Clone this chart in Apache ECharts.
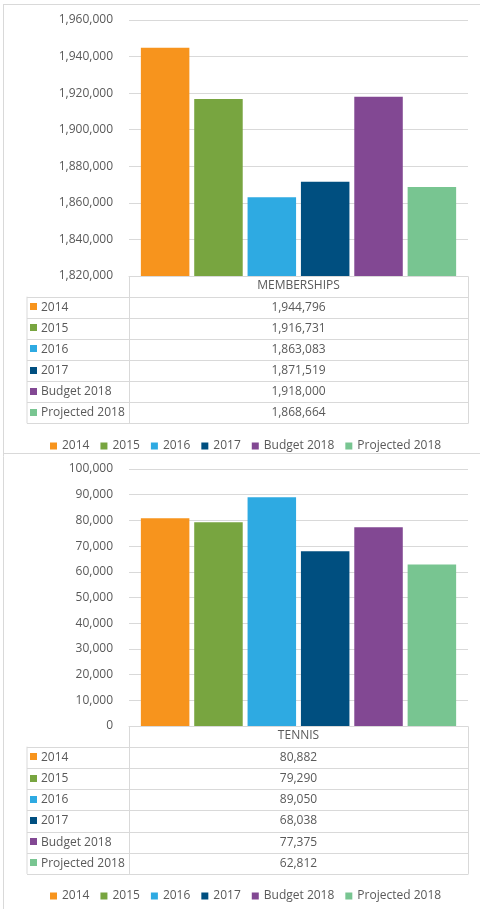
<!DOCTYPE html>
<html>
<head>
<meta charset="utf-8">
<script src="https://cdn.jsdelivr.net/npm/echarts@6/dist/echarts.min.js"></script>
<style>
  html, body { margin: 0; padding: 0; background: #fff; }
  #chart { width: 480px; height: 909px; }
</style>
</head>
<body>
<div id="chart"></div>
<script>
// data
var seriesNames = ['2014', '2015', '2016', '2017', 'Budget 2018', 'Projected 2018'];
var seriesColors = ['#F7941D', '#78A540', '#2EAAE2', '#004F80', '#824893', '#78C591'];
var membershipsValues = [1944796, 1916731, 1863083, 1871519, 1918000, 1868664];
var tennisValues = [80882, 79290, 89050, 68038, 77375, 62812];
var membershipsAxis = [1820000, 1960000, 20000];  // min, max, step
var tennisAxis = [0, 100000, 10000];

var textColor = '#595959';
var lineColor = '#d9d9d9';
var font = '"Open Sans", sans-serif';

function fmt(v) { return v.toLocaleString('en-US'); }

var chart = echarts.init(document.getElementById('chart'));

// panel layout
var plotLeft = 129, plotRight = 468;
var panels = [
    { top: 20, bottom: 276, rowH: 21.1, title: 'MEMBERSHIPS', values: membershipsValues, axis: membershipsAxis, legendTop: 435 },
    { top: 469, bottom: 726, rowH: 21.2, title: 'TENNIS', values: tennisValues, axis: tennisAxis, legendTop: 885 }
];

var grids = [], xAxes = [], yAxes = [], series = [], legends = [], graphics = [];

function hline(x1, x2, y) {
    return { type: 'line', silent: true, shape: { x1: x1, y1: y, x2: x2, y2: y }, style: { stroke: lineColor, lineWidth: 1 } };
}
function vline(x, y1, y2) {
    return { type: 'line', silent: true, shape: { x1: x, y1: y1, x2: x, y2: y2 }, style: { stroke: lineColor, lineWidth: 1 } };
}

panels.forEach(function (p, k) {
    grids.push({ left: plotLeft, width: plotRight - plotLeft, top: p.top, height: p.bottom - p.top });
    xAxes.push({
        type: 'category', gridIndex: k, data: [p.title],
        axisLine: { lineStyle: { color: lineColor } },
        axisTick: { show: false },
        axisLabel: { color: textColor, fontFamily: font, fontSize: 12, verticalAlign: 'middle', margin: 10 }
    });
    yAxes.push({
        type: 'value', gridIndex: k, min: p.axis[0], max: p.axis[1], interval: p.axis[2],
        axisLine: { show: false }, axisTick: { show: false },
        splitLine: { lineStyle: { color: lineColor } },
        axisLabel: { color: textColor, fontFamily: font, fontSize: 12, margin: 16, formatter: fmt }
    });
    seriesNames.forEach(function (name, i) {
        series.push({
            name: name, type: 'bar', xAxisIndex: k, yAxisIndex: k,
            data: [p.values[i]],
            itemStyle: { color: seriesColors[i] },
            barGap: '10%', barCategoryGap: '7%'
        });
    });
    legends.push({
        data: seriesNames, left: 45, top: p.legendTop,
        icon: 'rect', itemWidth: 7, itemHeight: 7, itemGap: 11,
        textStyle: { color: textColor, fontFamily: font, fontSize: 12 },
        selectedMode: false
    });

    // data table under the plot
    var y0 = p.bottom + 0.5;
    var rowsTop = p.bottom + 20.7;
    var tableBottom = rowsTop + p.rowH * seriesNames.length;
    graphics.push(vline(plotLeft + 0.5, y0, tableBottom));
    graphics.push(vline(plotRight + 0.5, y0, tableBottom));
    graphics.push(vline(27, rowsTop, tableBottom));
    for (var r = 0; r <= seriesNames.length; r++) {
        graphics.push(hline(27, plotRight + 0.5, Math.round(rowsTop + r * p.rowH) + 0.5));
    }
    seriesNames.forEach(function (name, i) {
        var cy = rowsTop + (i + 0.5) * p.rowH;
        graphics.push({ type: 'rect', silent: true, shape: { x: 30, y: Math.round(cy - 4), width: 7, height: 7 }, style: { fill: seriesColors[i] } });
        graphics.push({ type: 'text', silent: true, x: 41, y: cy, style: { text: name, fill: textColor, font: '12px ' + font, textAlign: 'left', textVerticalAlign: 'middle' } });
        graphics.push({ type: 'text', silent: true, x: (plotLeft + plotRight) / 2, y: cy, style: { text: fmt(p.values[i]), fill: textColor, font: '12px ' + font, textAlign: 'center', textVerticalAlign: 'middle' } });
    });
});

// panel borders
graphics.push(hline(3, 480, 4.5));
graphics.push(hline(3, 480, 453.5));
graphics.push(vline(3.5, 4, 909));

var option = {
    animation: false,
    grid: grids,
    xAxis: xAxes,
    yAxis: yAxes,
    legend: legends,
    series: series,
    graphic: graphics
};
chart.setOption(option);
</script>
</body>
</html>
